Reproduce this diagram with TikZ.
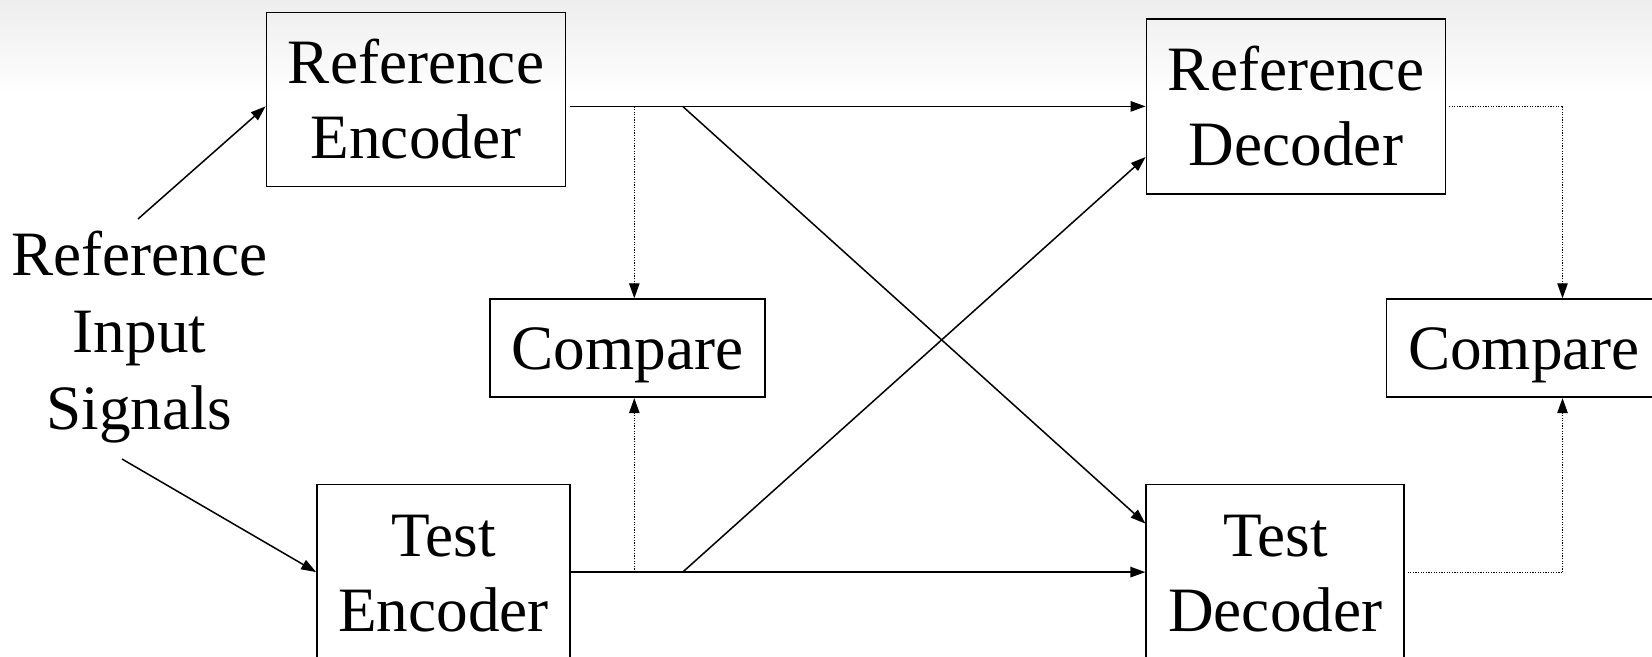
\documentclass[tikz,border=0pt]{standalone}
\usepackage{fontspec}
\setmainfont{Liberation Serif}
\usetikzlibrary{arrows.meta}
\begin{document}
\begin{tikzpicture}[x=0.5pt,y=-0.5pt,
  box/.style={draw, line width=0.9pt, rectangle, inner sep=0pt, align=center,
    font=\fontsize{31.6pt}{37.5pt}\selectfont},
  cmpbox/.style={box, text depth=0pt, minimum width=137.5pt, minimum height=49pt},
  lbl/.style={inner sep=0pt, align=center, font=\fontsize{31.6pt}{38.6pt}\selectfont},
  conn/.style={line width=0.75pt, -{Triangle[length=7.5pt,width=5.2pt]}},
  dotconn/.style={line width=0.6pt, dash pattern=on 0.6pt off 0.7pt, -{Triangle[length=7.5pt,width=5.2pt]}},
  dotline/.style={line width=0.6pt, dash pattern=on 0.6pt off 0.7pt}]
\useasboundingbox (0,0) rectangle (1652,657);
\begin{scope}
\clip (0,0) rectangle (1652,657);
\shade[top color=black!7, bottom color=white] (0,0) rectangle (1652,95);
\fill[white] (0,95) rectangle (1652,657);

% boxes
\node[box, minimum width=149.5pt, minimum height=87pt] (RE) at (416,99.5) {Reference\\Encoder};
\node[box, minimum width=149.5pt, minimum height=87.5pt] (RD) at (1296,106.4) {Reference\\Decoder};
\node[cmpbox] (CL) at (627.4,348.2) {Compare};
\node[cmpbox] (CR) at (1524,348.2) {Compare};
\node[box, minimum width=126.5pt, minimum height=89pt] (TE) at (443.6,573.5) {Test\\Encoder};
\node[box, minimum width=129pt, minimum height=89pt] (TD) at (1275.3,573.5) {Test\\Decoder};
\node[lbl] (IN) at (139.5,337) {Reference\\Input\\Signals};

% helper coordinates
\coordinate (inA) at (138,219);
\coordinate (inB) at (122,459);
\coordinate (reOut) at (570,106.4);
\coordinate (reTap) at (634.3,106.4);
\coordinate (reBr) at (682.7,106.4);
\coordinate (teOut) at (570,572.1);
\coordinate (teTap) at (634.3,572.1);
\coordinate (teBr) at (682.7,572.1);
\coordinate (rdOut) at (1449,106.4);
\coordinate (rdCorner) at (1562.5,106.4);
\coordinate (tdOut) at (1407.5,572.1);
\coordinate (tdCorner) at (1562.5,572.1);

% input arrows
\draw[conn] (inA) -- (RE.west |- 0,106.4);
\draw[conn] (inB) -- (TE.west |- 0,572.1);

% encoder outputs
\draw[conn] (reOut) -- (RD.west |- reOut);
\draw[conn] (reBr) -- (TD.west |- 0,523.6);
\draw[conn] (teOut) -- (TD.west |- teOut);
\draw[conn] (teBr) -- (RD.west |- 0,157);

% dotted taps to left compare
\draw[dotconn] (reTap) -- (reTap |- CL.north);
\draw[dotconn] (teTap) -- (teTap |- CL.south);

% dotted decoder outputs to right compare
\draw[dotline] (rdOut) -- (rdCorner);
\draw[dotconn] (rdCorner) -- (rdCorner |- CR.north);
\draw[dotline] (tdOut) -- (tdCorner);
\draw[dotconn] (tdCorner) -- (tdCorner |- CR.south);
\end{scope}
\end{tikzpicture}
\end{document}
